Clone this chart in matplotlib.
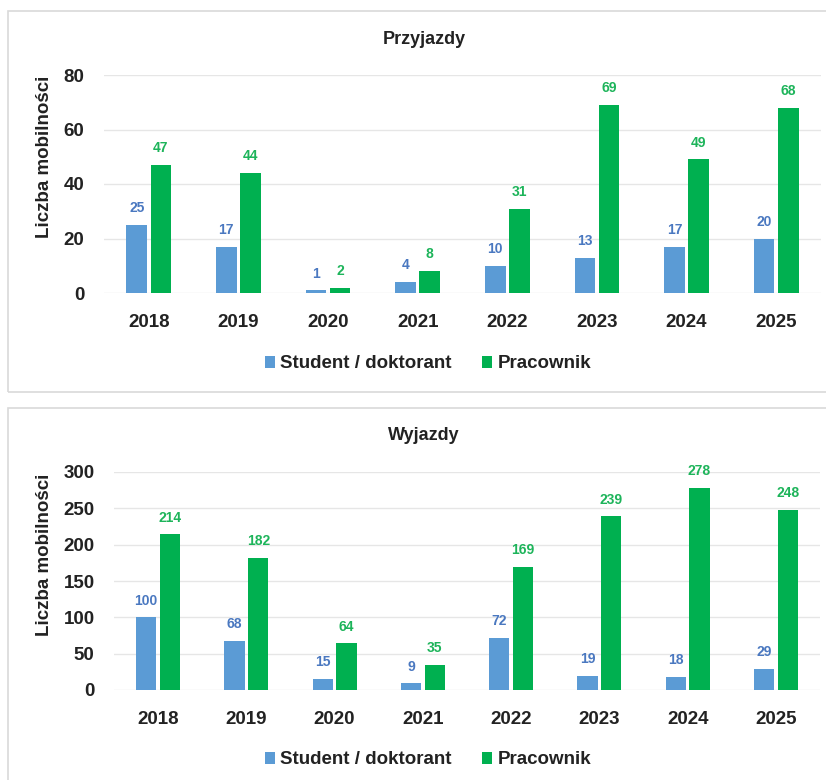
import matplotlib
matplotlib.use("Agg")
import matplotlib.pyplot as plt
from matplotlib.patches import Rectangle
import numpy as np

plt.rcParams['font.family'] = ['Liberation Sans', 'DejaVu Sans']

years = ["2018", "2019", "2020", "2021", "2022", "2023", "2024", "2025"]
series_names = ["Student / doktorant", "Pracownik"]
arrivals_student = [25, 17, 1, 4, 10, 13, 17, 20]
arrivals_staff = [47, 44, 2, 8, 31, 69, 49, 68]
departures_student = [100, 68, 15, 9, 72, 19, 18, 29]
departures_staff = [214, 182, 64, 35, 169, 239, 278, 248]
titles = ["Przyjazdy", "Wyjazdy"]
ylabel_text = "Liczba mobilności"

BLUE = "#5B9BD5"
GREEN = "#00B050"
BLUE_LBL = "#4A78C0"
GREEN_LBL = "#1DB45A"
W, H = 826, 780

fig = plt.figure(figsize=(W / 100, H / 100), dpi=100)

def px_axes(left, top, right, bottom):
    return fig.add_axes([left / W, 1 - bottom / H, (right - left) / W, (bottom - top) / H])

# panel borders
for (t, b) in [(11, 392), (408, 790)]:
    fig.patches.append(Rectangle((8 / W, 1 - b / H), (W + 10) / W, (b - t) / H,
                                 transform=fig.transFigure, fill=False,
                                 edgecolor="#D9D9D9", linewidth=1.2))

configs = [
    dict(ax=(104, 75, 821, 293), s=arrivals_student, p=arrivals_staff, ymax=80, step=20,
         title_y=40, leg_y=364, ylab=(53, 157)),
    dict(ax=(114, 472, 820, 690), s=departures_student, p=departures_staff, ymax=300, step=50,
         title_y=435, leg_y=760, ylab=(53, 555)),
]

x = np.arange(len(years))
bw = 0.23
off = 0.135
for i, c in enumerate(configs):
    l, t, r, b = c["ax"]
    ax = px_axes(l, t, r, b)
    b1 = ax.bar(x - off, c["s"], bw, color=BLUE, label=series_names[0], zorder=3)
    b2 = ax.bar(x + off, c["p"], bw, color=GREEN, label=series_names[1], zorder=3)
    for bars, vals, col in [(b1, c["s"], BLUE_LBL), (b2, c["p"], GREEN_LBL)]:
        for rect, v in zip(bars, vals):
            ax.annotate(str(v), (rect.get_x() + rect.get_width() / 2, v),
                        xytext=(0, 7), textcoords="offset points", ha="center", va="bottom",
                        fontsize=10, fontweight="bold", color=col)
    ax.set_xlim(-0.5, len(years) - 0.5)
    ax.set_ylim(0, c["ymax"])
    ax.set_yticks(np.arange(0, c["ymax"] + 1, c["step"]))
    ax.set_xticks(x)
    ax.set_xticklabels(years)
    ax.tick_params(axis="both", length=0, labelsize=13.5, colors="#222222")
    ax.tick_params(axis="y", pad=14)
    ax.tick_params(axis="x", pad=15)
    for lab in ax.get_xticklabels() + ax.get_yticklabels():
        lab.set_fontweight("bold")
    ax.grid(axis="y", color="#E6E6E6", linewidth=1.0, zorder=0)
    for sp in ax.spines.values():
        sp.set_visible(False)
    ax.set_ylabel(ylabel_text, fontsize=13.5, fontweight="bold", color="#222222")
    yl_x, yl_y = c["ylab"]
    ax.yaxis.set_label_coords((yl_x - l) / (r - l), 1 - (yl_y - t) / (b - t))
    fig.text(424 / W, 1 - c["title_y"] / H, titles[i], ha="center", va="center",
             fontsize=13, fontweight="bold", color="#222222")
    leg = fig.legend(handles=[b1, b2], labels=series_names, loc="center",
                     bbox_to_anchor=(428 / W, 1 - c["leg_y"] / H), ncol=2, frameon=False,
                     handlelength=0.55, handleheight=0.55, handletextpad=0.3, columnspacing=1.6,
                     prop={"size": 13.5, "weight": "bold"})
    for txt in leg.get_texts():
        txt.set_color("#222222")

fig.savefig("out.png", dpi=100, facecolor="white")
